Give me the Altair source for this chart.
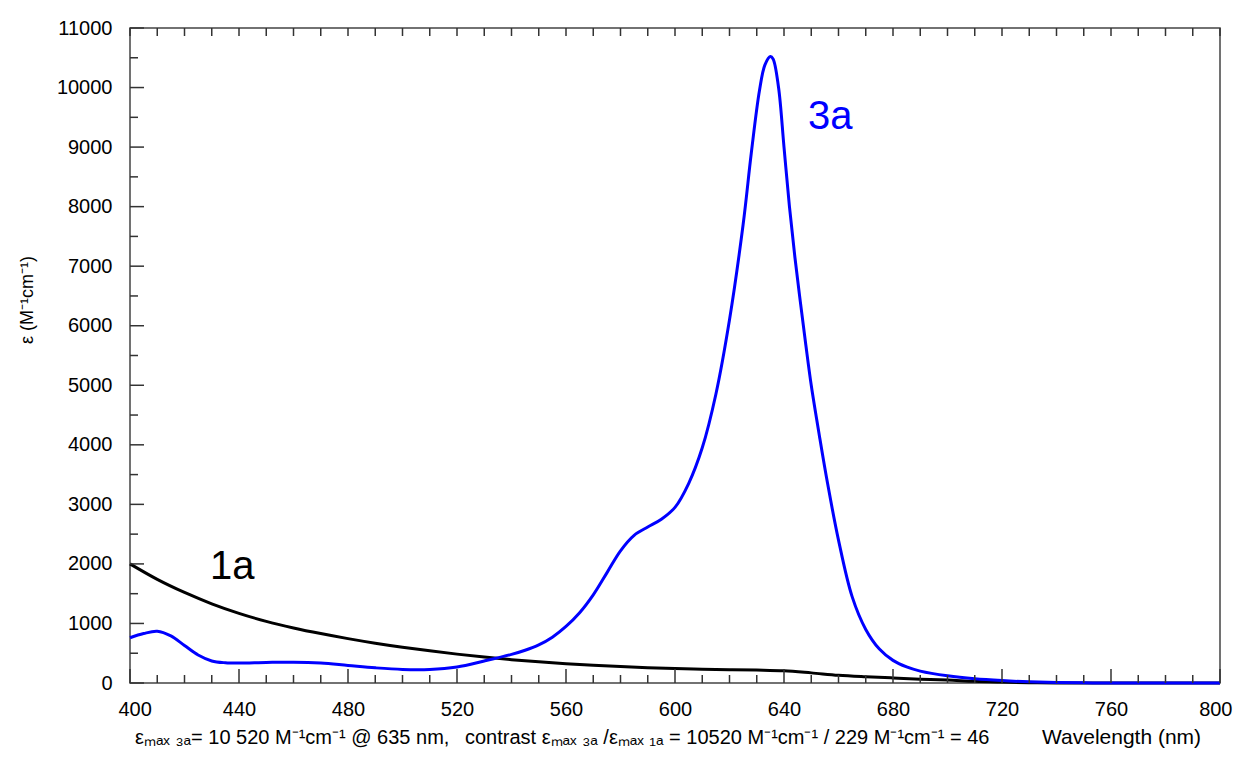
import altair as alt
import pandas as pd

# ---- data ----
wl_3a = [400, 405, 410, 415, 420, 425, 430, 435, 440, 450, 460, 470, 480, 490, 500, 510,
         520, 530, 540, 545, 550, 555, 560, 565, 570, 575, 580, 585, 590, 595, 600, 605,
         610, 615, 620, 625, 628, 631, 633, 635, 636, 638, 640, 642, 644, 646, 648, 650, 653, 656,
         660, 665, 670, 675, 680, 685, 690, 700, 710, 720, 730, 740, 750, 760, 780, 800]
eps_3a = [760, 830, 868, 790, 630, 470, 370, 340, 335, 345, 350, 335, 295, 255, 228, 228,
          270, 370, 480, 550, 640, 770, 950, 1180, 1480, 1850, 2220, 2480, 2620, 2750, 2950, 3350,
          3950, 4850, 6100, 7700, 8900, 9950, 10380, 10520, 10480, 10000, 9000, 8000, 7150, 6400, 5680, 5000, 4150, 3350,
          2400, 1450, 900, 570, 380, 270, 200, 120, 70, 40, 20, 8, 3, 0, 0, 0]

wl_1a = [400, 410, 420, 430, 440, 450, 460, 470, 480, 490, 500, 510, 520, 530, 540, 550,
         560, 570, 580, 590, 600, 610, 620, 630, 640, 650, 660, 670, 680, 690, 700, 710,
         720, 730, 740, 800]
eps_1a = [2000, 1740, 1520, 1330, 1170, 1035, 925, 830, 745, 668, 600, 540, 485, 435, 392, 355,
          323, 297, 276, 258, 243, 232, 224, 217, 205, 170, 130, 105, 85, 65, 50, 28,
          15, 5, 0, 0]

x_major = list(range(400, 801, 40))
x_minor = [v for v in range(400, 801, 10) if v not in x_major]
y_major = list(range(0, 11001, 1000))
y_minor = list(range(500, 11000, 1000))

label_names = ["1a", "3a"]
label_colors = ["#000000", "#0000ff"]
label_x = [437.5, 657]
label_y = [1950, 9500]

FONT = "Liberation Sans"
W, H = 1090, 655

df = pd.concat([
    pd.DataFrame({"wl": wl_1a, "eps": eps_1a, "s": "1a"}),
    pd.DataFrame({"wl": wl_3a, "eps": eps_3a, "s": "3a"}),
])

xs = alt.Scale(domain=[400, 800], nice=False, zero=False)
ys = alt.Scale(domain=[0, 11000], nice=False)

base = alt.Chart(df).encode(
    x=alt.X("wl:Q", scale=xs,
            axis=alt.Axis(values=x_major, ticks=False, domain=False, grid=False, title=None,
                          format="d", labelFont=FONT, labelFontSize=20, labelColor="#000",
                          labelPadding=16, labelFlush=True, labelFlushOffset=12)),
    y=alt.Y("eps:Q", scale=ys,
            axis=alt.Axis(values=y_major, ticks=False, domain=False, grid=False, title=None,
                          format="d", labelFont=FONT, labelFontSize=20, labelColor="#000",
                          labelPadding=18)),
)

line_1a = base.transform_filter(alt.datum.s == "1a").mark_line(
    color="#000000", strokeWidth=3, interpolate="catmull-rom")
line_3a = base.transform_filter(alt.datum.s == "3a").mark_line(
    color="#0000ff", strokeWidth=3, interpolate="catmull-rom")

# inward tick marks
dxM = pd.DataFrame({"wl": x_major})
dxm = pd.DataFrame({"wl": x_minor})
dyM = pd.DataFrame({"eps": y_major})
dym = pd.DataFrame({"eps": y_minor})
tick_col = "#333333"
bt_major = alt.Chart(dxM).mark_rule(color=tick_col, strokeWidth=1.5).encode(
    x=alt.X("wl:Q", scale=xs), y=alt.value(H), y2=alt.value(H - 14))
bt_minor = alt.Chart(dxm).mark_rule(color=tick_col, strokeWidth=1.5).encode(
    x=alt.X("wl:Q", scale=xs), y=alt.value(H), y2=alt.value(H - 8))
tp_all = alt.Chart(pd.DataFrame({"wl": x_major + x_minor})).mark_rule(color=tick_col, strokeWidth=1.5).encode(
    x=alt.X("wl:Q", scale=xs), y=alt.value(0), y2=alt.value(8))
lf_major = alt.Chart(dyM).mark_rule(color=tick_col, strokeWidth=1.5).encode(
    y=alt.Y("eps:Q", scale=ys), x=alt.value(0), x2=alt.value(14))
lf_minor = alt.Chart(dym).mark_rule(color=tick_col, strokeWidth=1.5).encode(
    y=alt.Y("eps:Q", scale=ys), x=alt.value(0), x2=alt.value(8))

labels = alt.Chart(pd.DataFrame({"wl": label_x, "eps": label_y, "t": label_names, "c": label_colors})).mark_text(
    font=FONT, fontSize=40, align="center", baseline="middle").encode(
    x=alt.X("wl:Q", scale=xs), y=alt.Y("eps:Q", scale=ys), text="t:N",
    color=alt.Color("c:N", scale=None))

ytitle = alt.Chart(pd.DataFrame({"t": ["ε (M⁻¹cm⁻¹)"]})).mark_text(
    font=FONT, fontSize=18, angle=270, align="center", baseline="middle", color="#000").encode(
    x=alt.value(-102), y=alt.value(272), text="t:N")

bottom_texts = ["εₘₐₓ ₃ₐ= 10 520 M⁻¹cm⁻¹ @ 635 nm,",
                "contrast εₘₐₓ ₃ₐ /εₘₐₓ ₁ₐ = 10520 M⁻¹cm⁻¹ / 229 M⁻¹cm⁻¹ =  46"]
bottom_x = [5, 335]
btm = alt.Chart(pd.DataFrame({"t": bottom_texts, "px": bottom_x})).mark_text(
    font=FONT, fontSize=20, align="left", baseline="middle", color="#000").encode(
    x=alt.X("px:Q", scale=None), y=alt.value(710), text="t:N")

xtitle = alt.Chart(pd.DataFrame({"t": ["Wavelength (nm)"]})).mark_text(
    font=FONT, fontSize=21, align="left", baseline="middle", color="#000").encode(
    x=alt.value(912), y=alt.value(710), text="t:N")

chart = alt.layer(
    line_1a, line_3a, bt_major, bt_minor, tp_all, lf_major, lf_minor, labels, ytitle, btm, xtitle
).properties(
    width=W, height=H,
    autosize=alt.AutoSizeParams(type="none"),
    padding={"left": 122, "top": 20, "right": 13, "bottom": 68},
    background="white",
).configure_view(stroke="#444444", strokeWidth=1.5)

chart.save("out.html", embed_options={"renderer": "svg", "actions": False})
